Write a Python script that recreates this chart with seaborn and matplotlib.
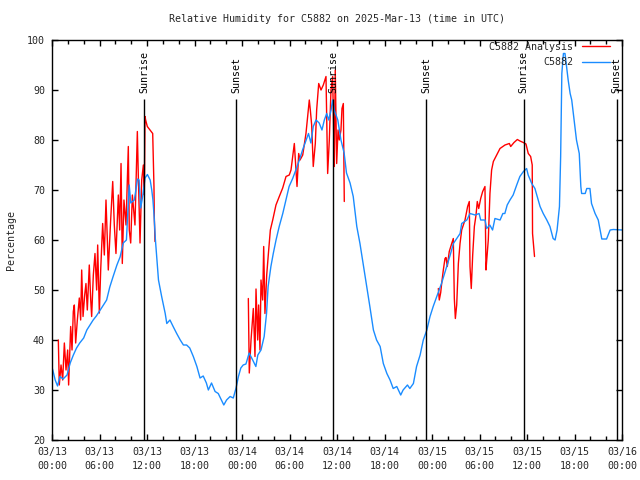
import numpy as np
import pandas as pd
import matplotlib
matplotlib.use("Agg")
import matplotlib.pyplot as plt
import matplotlib.dates as mdates
from matplotlib.lines import Line2D
import seaborn as sns

# ---------------- data (hours after 2025-03-13 00:00 UTC) ----------------
obs_hours = [0.0, 0.1, 0.4, 0.7, 1.0, 1.4, 1.9, 2.3, 2.7, 3.1, 3.5, 4.0, 4.4, 4.8, 5.2, 5.6, 6.1, 6.5, 6.9,
             7.3, 7.7, 8.2, 8.6, 9.0, 9.4, 9.75, 9.95, 10.4, 10.8, 11.0, 11.2, 11.45, 11.75, 12.05, 12.4,
             12.6, 12.75, 12.9, 13.05, 13.25, 13.45, 13.85, 14.3, 14.5, 14.9, 15.3, 15.75, 16.2, 16.6, 17.0,
             17.4, 17.85, 18.3, 18.7, 19.1, 19.5, 19.75, 20.15, 20.6, 21.0, 21.4, 21.7, 22.05, 22.5, 22.9,
             23.25, 23.55, 23.85, 24.15, 24.5, 24.9, 25.35, 25.75, 26.0, 26.4, 26.8, 27.1, 27.3, 27.65,
             27.95, 28.3, 28.7, 29.15, 29.55, 29.95, 30.4, 30.8, 31.25, 31.65, 32.1, 32.4, 32.7, 33.0,
             33.35, 33.75, 34.1, 34.4, 34.7, 34.95, 35.25, 35.45, 35.65, 36.1, 36.5, 36.9, 37.2, 37.65,
             38.05, 38.5, 38.9, 39.3, 39.75, 40.15, 40.6, 41.0, 41.45, 41.85, 42.3, 42.7, 43.1, 43.55,
             44.05, 44.35, 44.9, 45.2, 45.65, 46.05, 46.5, 46.9, 47.35, 47.75, 48.15, 48.6, 48.9, 49.2,
             49.85, 50.3, 50.7, 51.55, 51.75, 52.4, 52.8, 53.45, 53.95, 54.15, 54.7, 54.9, 55.3, 55.65,
             55.95, 56.6, 56.95, 57.2, 57.5, 57.85, 58.25, 58.7, 59.1, 59.55, 59.95, 60.15, 60.6, 61.0,
             61.55, 61.65, 62.05, 62.5, 62.9, 63.3, 63.55, 63.8, 64.1, 64.25, 64.4, 64.6, 64.8, 65.0,
             65.2, 65.45, 65.65, 65.95, 66.25, 66.6, 66.8, 66.9, 67.35, 67.55, 67.95, 68.15, 68.6, 69.0,
             69.45, 70.05, 70.5, 70.9, 72.0]
obs_rh = [34.5, 34, 32, 30.8, 32.7, 32.2, 33, 35.4, 37, 38.4, 39.4, 40.4, 42, 43, 44, 44.8, 46, 47, 48,
          50.6, 52.6, 55, 56.6, 59.4, 60, 71, 67.4, 68, 72.2, 72, 66.4, 68.7, 72.4, 73.1, 72,
          70, 68, 64.7, 60.3, 56, 52, 48.7, 45.3, 43.3, 44, 42.7, 41.3, 40, 39, 39,
          38.4, 36.7, 34.7, 32.4, 32.8, 31.4, 30, 31.4, 29.7, 29.3, 28, 27, 28, 28.7, 28.4,
          30.4, 32.7, 34.4, 35, 35.2, 37.4, 36, 34.7, 37, 38, 40.7, 45.3, 50.7, 54.7,
          57.3, 60, 62.7, 65.3, 68, 70.7, 72.3, 74, 76, 78, 80, 81.3, 79.4, 82.7,
          84, 83.4, 82, 84, 85.3, 84, 86, 88, 86, 84, 80, 77.4, 73.4, 71.4,
          68.7, 62.7, 59.3, 55.3, 50.7, 46.7, 42, 40, 38.7, 35.3, 33.3, 32, 30.3, 30.7,
          29, 30, 31, 30.3, 31.3, 34.7, 37, 40, 42, 44.7, 46.7, 48.7, 50, 51.3,
          54.7, 57, 59.3, 61.3, 63.3, 64, 65.3, 65, 65.3, 64, 64, 62.3, 63, 62,
          64.3, 64, 65.3, 65.3, 67, 68, 69, 71, 72.7, 73.7, 74.3, 73, 71.3, 70.3,
          67.3, 66.7, 65.3, 64, 62.7, 60.3, 60, 62, 66.7, 76.7, 93.3, 97.3, 97.3, 94.7,
          92, 89.3, 88, 84, 80, 77.3, 70.7, 69.3, 69.3, 70.3, 70.3, 67.3, 65.3, 64,
          60.2, 60.2, 62, 62.1, 62]

ana1_hours = [0.8, 0.92, 1.14, 1.35, 1.56, 1.77, 1.98, 2.1, 2.36, 2.53, 2.69, 2.82, 2.99, 3.2, 3.45, 3.62,
              3.75, 3.92, 4.13, 4.29, 4.46, 4.71, 4.89, 5.01, 5.22, 5.43, 5.64, 5.77, 5.98, 6.15, 6.4,
              6.61, 6.82, 6.99, 7.11, 7.41, 7.67, 7.87, 8.08, 8.38, 8.55, 8.72, 8.88, 9.09, 9.35, 9.64,
              9.76, 9.94, 10.15, 10.48, 10.78, 10.9, 11.12, 11.33, 11.54, 11.66, 11.75, 11.83, 12.04,
              12.38, 12.72, 12.88, 12.92, 13.01]
ana1_rh = [40, 31, 35, 32, 39.4, 34, 38, 31, 42.7, 38, 45.7, 47, 39.4, 44, 48.4, 44,
           54, 44.7, 49, 51.3, 46, 55, 48, 44.7, 53, 57.3, 50, 59, 45.4, 54, 63.3,
           57, 68, 60, 54, 64, 71.7, 63, 57.3, 69, 62, 75.3, 55.3, 68, 63, 78.7,
           62, 59.4, 69, 63, 81.7, 73, 59.4, 72, 75, 69, 84.7, 84, 82.7,
           82, 81.3, 70.7, 64.7, 59.7]

ana2_hours = [24.8, 24.92, 25.14, 25.43, 25.64, 25.77, 25.98, 26.1, 26.27, 26.4, 26.61, 26.74, 26.9, 27.12,
              27.32, 27.58, 27.88, 28.29, 28.71, 29.14, 29.56, 29.97, 30.19, 30.61, 30.74, 30.95, 31.16,
              31.33, 31.67, 32.08, 32.5, 32.63, 32.8, 33.0, 33.26, 33.43, 33.69, 33.98, 34.27, 34.61,
              34.82, 35.03, 35.24, 35.45, 35.66, 35.78, 35.96, 36.13, 36.29, 36.5, 36.63, 36.8, 36.92]
ana2_rh = [48.3, 33.4, 40, 46.3, 36.7, 50.2, 40, 47, 38, 52, 48, 58.7, 45.3, 53,
           57, 62, 64, 67, 68.7, 70.4, 72.7, 73, 74, 79.3, 76, 70.7, 77.3,
           76, 77, 81.3, 88, 86, 83, 74.7, 79.3, 86, 91.3, 90, 91, 92.7,
           73.3, 80, 90, 92.7, 74.7, 94, 75.3, 82, 80, 82, 86.3, 87.3, 67.7]

ana3_hours = [48.8, 48.92, 49.1, 49.22, 49.43, 49.64, 49.77, 49.93, 50.18, 50.49, 50.69, 50.82, 50.95,
              51.12, 51.33, 51.54, 51.75, 52.17, 52.5, 52.71, 52.8, 52.96, 53.14, 53.35, 53.56, 53.72,
              53.9, 54.15, 54.4, 54.69, 54.82, 54.9, 55.11, 55.32, 55.53, 55.75, 56.17, 56.59, 57.22,
              57.77, 57.94, 58.36, 58.78, 59.11, 59.53, 59.87, 60.16, 60.46, 60.66, 60.7, 60.95]
ana3_rh = [50.3, 48, 49.5, 51.3, 54, 56.3, 56.5, 54.7, 57.7, 59.3, 60.3, 48.3, 44.3,
           47, 55.3, 59.3, 62, 64, 66.7, 67.7, 54.7, 50.3, 57, 62.7, 65, 67.7,
           66.3, 68.3, 69.7, 70.7, 54, 55.7, 60, 69.3, 74, 75.7, 77, 78.3, 79,
           79.3, 78.7, 79.5, 80.1, 79.8, 79.5, 79.2, 77.3, 76.7, 75, 61.3, 56.7]

sunrise_hours = [11.66, 35.53, 59.56]
sunset_hours = [23.24, 47.30, 71.33]

title = "Relative Humidity for C5882 on 2025-Mar-13 (time in UTC)"
ylabel = "Percentage"
series_labels = ["C5882 Analysis", "C5882"]
y_ticks = [20, 30, 40, 50, 60, 70, 80, 90, 100]

# ---------------- build frames ----------------
start = pd.Timestamp("2025-03-13 00:00")


def to_time(hours):
    return start + pd.to_timedelta(np.asarray(hours, dtype=float), unit="h")


obs_df = pd.DataFrame({"time": to_time(obs_hours), "rh": obs_rh})
ana_df = pd.concat([
    pd.DataFrame({"time": to_time(h), "rh": v, "seg": i})
    for i, (h, v) in enumerate([(ana1_hours, ana1_rh), (ana2_hours, ana2_rh), (ana3_hours, ana3_rh)])
], ignore_index=True)

# ---------------- style ----------------
sns.set_style("ticks")
plt.rcParams["font.family"] = ["DejaVu Sans Mono", "DejaVu Sans"]
FS = 7.2
RED = "#ff0000"
BLUE = "#1a8cff"

fig = plt.figure(figsize=(6.4, 4.8), dpi=100)
ax = fig.add_axes([52 / 640, 40 / 480, 570 / 640, 400 / 480])

sns.lineplot(data=ana_df, x="time", y="rh", units="seg", estimator=None, sort=False,
             color=RED, lw=1.0, ax=ax)
sns.lineplot(data=obs_df, x="time", y="rh", estimator=None, sort=False,
             color=BLUE, lw=1.0, ax=ax)

# sunrise / sunset lines
for hrs, name in [(sunrise_hours, "Sunrise"), (sunset_hours, "Sunset")]:
    tt = to_time(hrs)
    ax.vlines(tt, 20, 88.1, color="black", lw=1.0, zorder=3)
    for t in tt:
        ax.text(t, 89.4, name, rotation=90, ha="center", va="bottom", fontsize=FS, color="black")

ax.set_xlim(start, start + pd.Timedelta(hours=72))
ax.set_ylim(20, 100)
ax.set_yticks(y_ticks)
ax.xaxis.set_major_locator(mdates.HourLocator(byhour=[0, 6, 12, 18]))
ax.xaxis.set_minor_locator(mdates.HourLocator(byhour=list(range(0, 24, 2))))
ax.xaxis.set_major_formatter(mdates.DateFormatter("%m/%d\n%H:%M"))
ax.set_xlabel("")
ax.set_ylabel("")

ax.tick_params(which="both", direction="in", top=True, right=True, width=1.0, color="black",
               labelsize=FS, pad=5)
ax.tick_params(which="major", length=4)
ax.tick_params(which="minor", length=3)
ax.tick_params(axis="y", which="minor", left=False, right=False)
for sp in ax.spines.values():
    sp.set_visible(True)
    sp.set_linewidth(1.0)
    sp.set_color("black")
ax.grid(False)

fig.canvas.draw()
for t in ax.get_xticklabels():
    t.set_linespacing(1.55)

handles = [Line2D([], [], color=RED, lw=1.0), Line2D([], [], color=BLUE, lw=1.0)]
ax.legend(handles, series_labels, loc="upper right", bbox_to_anchor=(1 - 12 / 570, 1 - 2 / 400),
          frameon=False, markerfirst=False, handlelength=2.8, handletextpad=0.9,
          labelspacing=0.55, borderpad=0, borderaxespad=0, fontsize=FS)

fig.text(337 / 640, 1 - 19 / 480, title, ha="center", va="center", fontsize=FS)
fig.text(11 / 640, 0.5, ylabel, rotation=90, ha="center", va="center", fontsize=FS)

fig.savefig("out.png", dpi=100, facecolor="white")
